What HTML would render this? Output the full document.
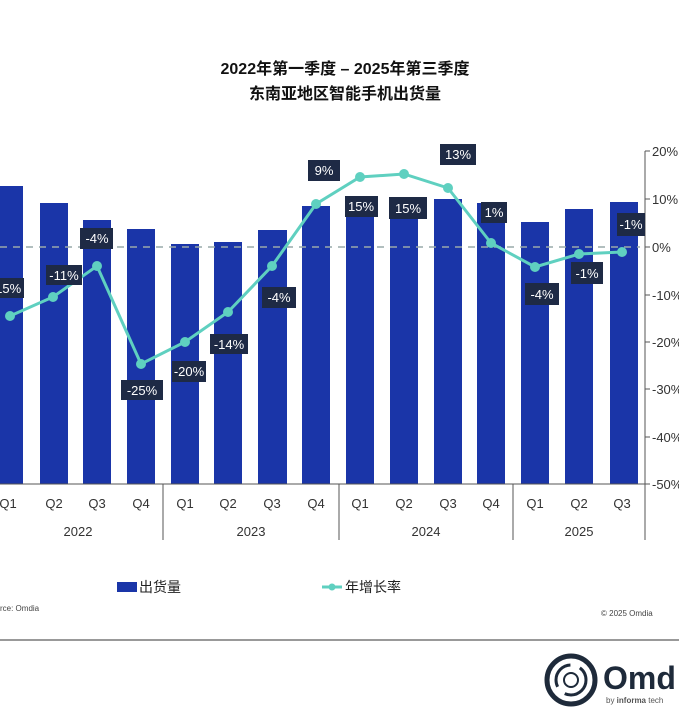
<!DOCTYPE html>
<html><head><meta charset="utf-8"><style>
body{margin:0;width:679px;height:720px;background:#fff;overflow:hidden;font-family:"Liberation Sans","Noto Sans CJK SC",sans-serif}
</style></head><body>
<svg width="679" height="720" viewBox="0 0 679 720" xmlns="http://www.w3.org/2000/svg" font-family="Liberation Sans, Noto Sans CJK SC, sans-serif">
<text x="345" y="74" text-anchor="middle" font-size="16" font-weight="bold" fill="#111">2022年第一季度 – 2025年第三季度</text>
<text x="345" y="99" text-anchor="middle" font-size="16" font-weight="bold" fill="#111">东南亚地区智能手机出货量</text>
<g fill="#1a35a8">
<rect x="-4" y="186" width="27" height="298"/>
<rect x="40" y="203" width="28" height="281"/>
<rect x="83" y="220" width="28" height="264"/>
<rect x="127" y="229" width="28" height="255"/>
<rect x="171" y="244" width="28" height="240"/>
<rect x="214" y="242" width="28" height="242"/>
<rect x="258" y="230" width="29" height="254"/>
<rect x="302" y="206" width="28" height="278"/>
<rect x="346" y="205" width="28" height="279"/>
<rect x="390" y="205" width="28" height="279"/>
<rect x="434" y="199" width="28" height="285"/>
<rect x="477" y="203" width="28" height="281"/>
<rect x="521" y="222" width="28" height="262"/>
<rect x="565" y="209" width="28" height="275"/>
<rect x="610" y="202" width="28" height="282"/>
</g>
<line x1="0" y1="247" x2="640" y2="247" stroke="#9aa" stroke-width="1.5" stroke-dasharray="7,6"/>
<g stroke="#555" stroke-width="1">
<line x1="645" y1="151" x2="645" y2="540"/>
<line x1="645" y1="151" x2="650" y2="151"/><line x1="645" y1="199" x2="650" y2="199"/><line x1="645" y1="247" x2="650" y2="247"/><line x1="645" y1="295" x2="650" y2="295"/><line x1="645" y1="342" x2="650" y2="342"/><line x1="645" y1="389" x2="650" y2="389"/><line x1="645" y1="437" x2="650" y2="437"/><line x1="645" y1="484" x2="650" y2="484"/>
<line x1="0" y1="484" x2="645" y2="484"/>
<line x1="163" y1="484" x2="163" y2="540"/><line x1="339" y1="484" x2="339" y2="540"/><line x1="513" y1="484" x2="513" y2="540"/>
</g>
<g font-size="13" fill="#333">
<text x="652" y="156">20%</text><text x="652" y="204">10%</text><text x="652" y="252">0%</text><text x="652" y="300">-10%</text><text x="652" y="347">-20%</text><text x="652" y="394">-30%</text><text x="652" y="442">-40%</text><text x="652" y="489">-50%</text>
</g>
<g font-size="13" fill="#333" text-anchor="middle">
<text x="8" y="508">Q1</text><text x="54" y="508">Q2</text><text x="97" y="508">Q3</text><text x="141" y="508">Q4</text>
<text x="185" y="508">Q1</text><text x="228" y="508">Q2</text><text x="272" y="508">Q3</text><text x="316" y="508">Q4</text>
<text x="360" y="508">Q1</text><text x="404" y="508">Q2</text><text x="448" y="508">Q3</text><text x="491" y="508">Q4</text>
<text x="535" y="508">Q1</text><text x="579" y="508">Q2</text><text x="622" y="508">Q3</text>
<text x="78" y="536">2022</text><text x="251" y="536">2023</text><text x="426" y="536">2024</text><text x="579" y="536">2025</text>
</g>
<polyline fill="none" stroke="#5fd0c0" stroke-width="3" points="10,316 53,297 97,266 141,364 185,342 228,312 272,266 316,204 360,177 404,174 448,188 491,243 535,267 579,254 622,252"/>
<g fill="#5fd0c0">
<circle cx="10" cy="316" r="5"/><circle cx="53" cy="297" r="5"/><circle cx="97" cy="266" r="5"/><circle cx="141" cy="364" r="5"/><circle cx="185" cy="342" r="5"/><circle cx="228" cy="312" r="5"/><circle cx="272" cy="266" r="5"/><circle cx="316" cy="204" r="5"/><circle cx="360" cy="177" r="5"/><circle cx="404" cy="174" r="5"/><circle cx="448" cy="188" r="5"/><circle cx="491" cy="243" r="5"/><circle cx="535" cy="267" r="5"/><circle cx="579" cy="254" r="5"/><circle cx="622" cy="252" r="5"/>
</g>
<g fill="#1e2a45">
<rect x="-12" y="278" width="36" height="20"/><rect x="46" y="265" width="36" height="20"/><rect x="80" y="228" width="33" height="21"/><rect x="121" y="380" width="42" height="20"/><rect x="172" y="361" width="34" height="21"/><rect x="210" y="334" width="38" height="20"/><rect x="262" y="287" width="34" height="21"/><rect x="308" y="160" width="32" height="21"/><rect x="345" y="196" width="33" height="21"/><rect x="389" y="197" width="38" height="22"/><rect x="440" y="144" width="36" height="21"/><rect x="481" y="202" width="26" height="21"/><rect x="525" y="283" width="34" height="22"/><rect x="571" y="262" width="32" height="22"/><rect x="617" y="213" width="28" height="23"/>
</g>
<g font-size="13" fill="#fff" text-anchor="middle">
<text x="6" y="293">-15%</text><text x="64" y="280">-11%</text><text x="97" y="243">-4%</text><text x="142" y="395">-25%</text><text x="189" y="376">-20%</text><text x="229" y="349">-14%</text><text x="279" y="302">-4%</text><text x="324" y="175">9%</text><text x="361" y="211">15%</text><text x="408" y="213">15%</text><text x="458" y="159">13%</text><text x="494" y="217">1%</text><text x="542" y="299">-4%</text><text x="587" y="278">-1%</text><text x="631" y="229">-1%</text>
</g>
<rect x="117" y="582" width="20" height="10" fill="#1a35a8"/>
<text x="139" y="592" font-size="14" fill="#222">出货量</text>
<line x1="322" y1="587" x2="342" y2="587" stroke="#5fd0c0" stroke-width="3"/><circle cx="332" cy="587" r="3.5" fill="#5fd0c0"/>
<text x="345" y="592" font-size="14" fill="#222">年增长率</text>
<text x="0" y="611" font-size="8" fill="#444">rce: Omdia</text>
<text x="601" y="616" font-size="8" fill="#444">© 2025 Omdia</text>
<line x1="0" y1="640" x2="679" y2="640" stroke="#999" stroke-width="2"/>
<circle cx="571" cy="680" r="24" fill="none" stroke="#1e2a3a" stroke-width="5"/>
<circle cx="571" cy="680" r="15" fill="none" stroke="#1e2a3a" stroke-width="3" stroke-dasharray="30,10"/>
<circle cx="571" cy="680" r="7" fill="#fff" stroke="#1e2a3a" stroke-width="2"/>
<text x="603" y="689" font-size="32" font-weight="bold" fill="#1e2a3a">Omd</text>
<text x="606" y="703" font-size="8" fill="#555">by <tspan font-weight="bold">informa</tspan> tech</text>
</svg>
</body></html>
